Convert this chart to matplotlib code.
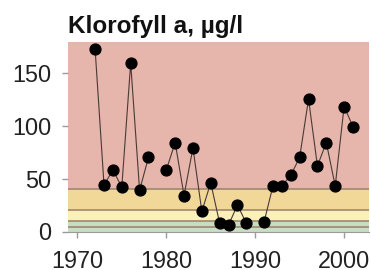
import numpy as np
import matplotlib as mpl
mpl.use('Agg')
import matplotlib.pyplot as plt

plt.rcParams['font.family'] = ['Liberation Sans', 'DejaVu Sans']

# Klorofyll a per year (NaN = no sample that year, line is broken)
years = np.arange(1972, 2002)
chl = np.array([172, 44, 58, 42, 159, 39, 70, np.nan, 58, 84,
                34, 79, 19, 46, 8, 6, 25, 8, np.nan, 9,
                43, 43, 53, 70, 125, 62, 84, 43, 118, 99])

# class limits and their colours
band_edges = [0, 4, 10, 20, 40, 179]
band_colors = ['#c9dcc4', '#c3dfc2', '#fbf0b9', '#f1d898', '#e6b5ab']

fig = plt.figure(figsize=(3.71, 2.70), dpi=100)
ax = fig.add_axes([68 / 371, (270 - 231.5) / 270, 301 / 371, 189.5 / 270])

for lo, hi, c in zip(band_edges[:-1], band_edges[1:], band_colors):
    ax.axhspan(lo, hi, color=c, lw=0, zorder=0)
for e in band_edges[1:-1]:
    ax.axhline(e, color='#a08770', lw=1.2, zorder=1)

ax.plot(years, chl, '-', color='#4a3a36', lw=0.8, zorder=2)
ax.plot(years, chl, 'o', color='black', ms=7.8, zorder=3)

ax.set_xlim(1968.95, 2002.8)
ax.set_ylim(0, 179)
ax.set_xticks([1970, 1980, 1990, 2000])
ax.set_yticks([0, 50, 100, 150])

for s in ['top', 'right', 'left']:
    ax.spines[s].set_visible(False)
ax.spines['bottom'].set_color('#9a9a9a')
ax.tick_params(axis='both', colors='#9a9a9a', labelcolor='#222222',
               labelsize=16.8, length=4, width=1)
ax.tick_params(axis='x', pad=9)
ax.tick_params(axis='y', pad=8)

fig.text(68 / 371, (270 - 33.5) / 270, 'Klorofyll a, µg/l', fontsize=17.5,
         fontweight='bold', ha='left', va='baseline', color='#111111')

fig.savefig('out.png', dpi=100)
